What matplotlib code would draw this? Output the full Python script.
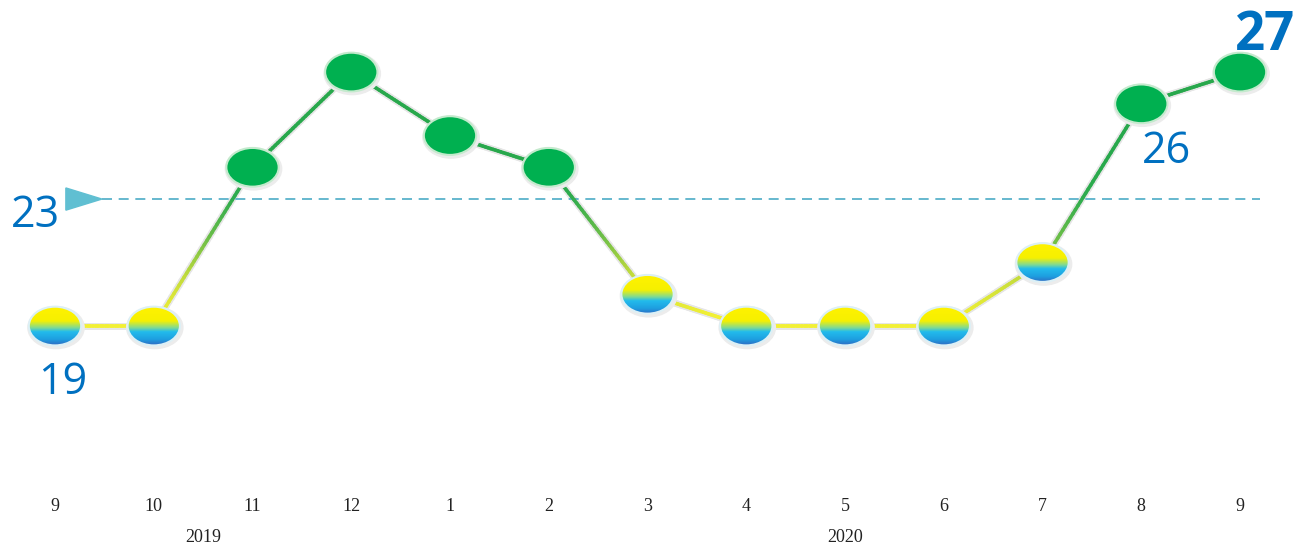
import numpy as np
import matplotlib
matplotlib.use("Agg")
import matplotlib.pyplot as plt
from matplotlib.patches import Ellipse, Polygon
from matplotlib.collections import LineCollection
from matplotlib.colors import LinearSegmentedColormap

# 数据
months = ["9", "10", "11", "12", "1", "2", "3", "4", "5", "6", "7", "8", "9"]
values = [19, 19, 24, 27, 25, 24, 20, 19, 19, 19, 21, 26, 27]
years = ["2019", "2020"]
year_pos = [1.5, 8.0]
threshold = 23

fig = plt.figure(figsize=(12.99, 5.47), dpi=100)
ax = fig.add_axes([0, 0, 1, 1])
ax.set_xlim(-0.557, 12.597)
ax.set_ylim(12.04, 29.27)
ax.axis("off")

x = np.arange(len(values))
y = np.array(values, dtype=float)

# 折线：按高度从黄到绿渐变
line_cmap = LinearSegmentedColormap.from_list(
    "yg", ["#f2f034", "#c4dc3c", "#6cbe48", "#2fac4e", "#28a84c"])
segs, cols = [], []
for i in range(len(x) - 1):
    t = np.linspace(0, 1, 40)
    xs = x[i] + (x[i + 1] - x[i]) * t
    ys = y[i] + (y[i + 1] - y[i]) * t
    for k in range(len(t) - 1):
        segs.append([(xs[k], ys[k]), (xs[k + 1], ys[k + 1])])
        cols.append(np.clip((0.5 * (ys[k] + ys[k + 1]) - 19.3) / 5.0, 0, 1))
shadow = LineCollection(segs, colors="#e6e6e6", linewidths=5, zorder=1, capstyle="round")
ax.add_collection(shadow)
lc = LineCollection(segs, cmap=line_cmap, linewidths=2.6, zorder=2, capstyle="round")
lc.set_array(np.array(cols))
lc.set_clim(0, 1)
ax.add_collection(lc)

# 阈值虚线和三角
ax.plot([0.475, 12.2], [threshold, threshold], color="#4bacc6", lw=1.2,
        dashes=(6, 4), zorder=1)
tri = Polygon([(0.11, threshold + 0.35), (0.11, threshold - 0.35), (0.475, threshold)],
              closed=True, color="#60bfd2", zorder=3)
ax.add_patch(tri)

# 点
w, h = 0.53, 1.22
grad_cmap = LinearSegmentedColormap.from_list(
    "yb", [(0, "#fff200"), (0.38, "#f6f000"), (0.55, "#86dc8c"), (0.66, "#22bcec"),
           (0.86, "#1e9ee0"), (1, "#2f6ec4")])
grad = np.linspace(0, 1, 100).reshape(-1, 1)
for xi, yi in zip(x, y):
    glow = Ellipse((xi + 0.01, yi - 0.05), w + 0.04, h + 0.1, color="#ececec", zorder=3)
    ax.add_patch(glow)
    if yi > threshold:
        e = Ellipse((xi, yi), w, h, facecolor="#00b050", edgecolor="#c4eacd", lw=1.5, zorder=5)
        ax.add_patch(e)
    else:
        e = Ellipse((xi, yi), w, h, facecolor="none", edgecolor="#dcf0f6", lw=1.5, zorder=6)
        ax.add_patch(e)
        im = ax.imshow(grad, cmap=grad_cmap, aspect="auto", zorder=5,
                       extent=(xi - w / 2, xi + w / 2, yi - h / 2, yi + h / 2),
                       origin="upper", interpolation="bilinear")
        im.set_clip_path(e)

# 月份与年份
for xi, m in zip(x, months):
    ax.text(xi, 13.3, m, ha="center", va="center", fontsize=13,
            family="Liberation Serif", color="#222222")
for xp, yr in zip(year_pos, years):
    ax.text(xp, 12.33, yr, ha="center", va="center", fontsize=13,
            family="Liberation Serif", color="#222222")

# 数值标签
blue = "#0070c0"
ax.text(0.08, 17.22, "19", ha="center", va="center", fontsize=31, color=blue, family="Open Sans")
ax.text(-0.2, 22.48, "23", ha="center", va="center", fontsize=31, color=blue, family="Open Sans")
ax.text(11.26, 24.5, "26", ha="center", va="center", fontsize=31, color=blue, family="Open Sans")
ax.text(12.25, 28.15, "27", ha="center", va="center", fontsize=38, color=blue,
        family="Open Sans", fontweight="bold")

fig.savefig("out.png", dpi=100)
